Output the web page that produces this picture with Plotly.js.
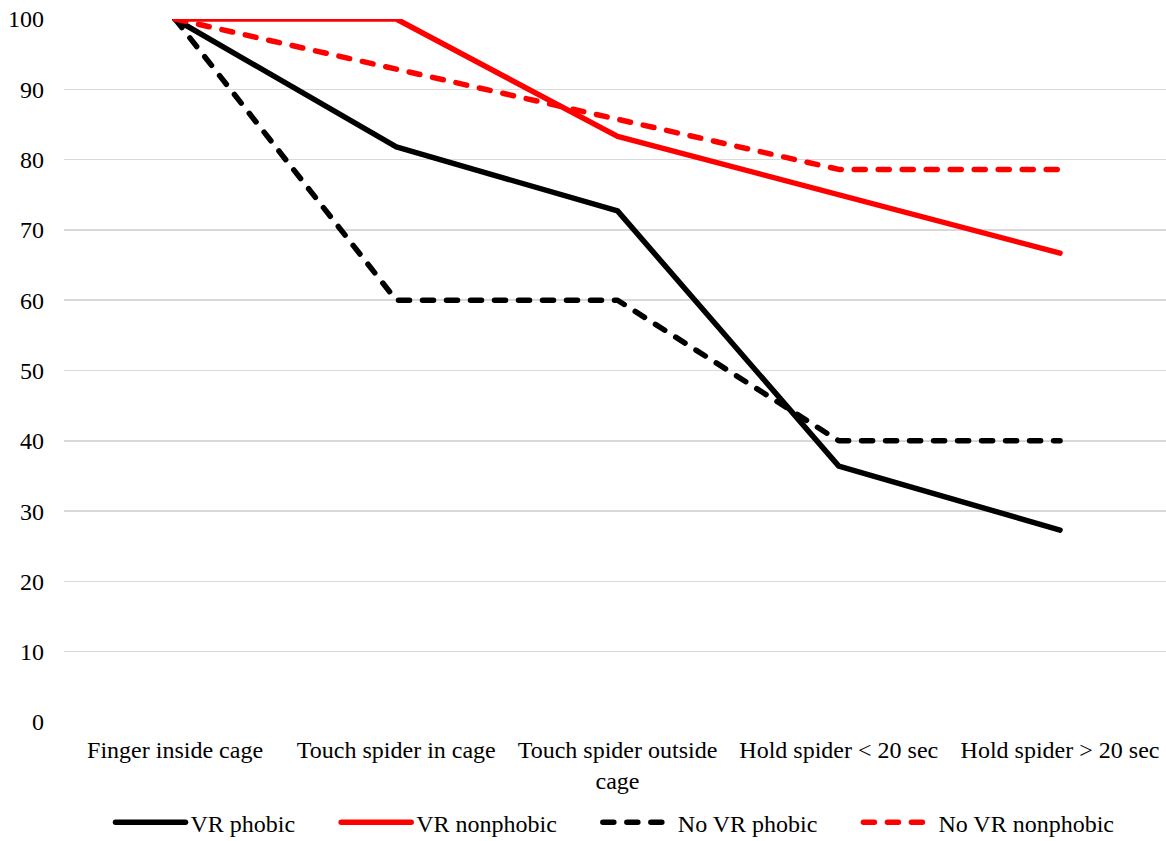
<!DOCTYPE html>
<html>
<head>
<meta charset="utf-8">
<script src="https://cdn.plot.ly/plotly-3.0.1.min.js"></script>
<style>
  html, body { margin: 0; padding: 0; background: #fff; overflow: hidden; }
  #chart { width: 1166px; height: 841px; }
  /* rounded ends on every series stroke, in the plot and the legend */
  #chart path.js-line { stroke-linecap: round; stroke-linejoin: round; }
</style>
</head>
<body>
<div id="chart"></div>
<script>
// Steps of the behavioural approach test
const steps = [
  "Finger inside cage",
  "Touch spider in cage",
  "Touch spider outside<br>cage",
  "Hold spider < 20 sec",
  "Hold spider > 20 sec"
];

// Percentage of participants completing each step
const vrPhobic      = [100, 81.8, 72.7, 36.4, 27.3];
const vrNonphobic   = [100, 100, 83.3, 75.0, 66.7];
const noVrPhobic    = [100, 60, 60, 40, 40];
const noVrNonphobic = [100, 92.9, 85.7, 78.6, 78.6];

const seriesNames = ["VR phobic", "VR nonphobic", "No VR phobic", "No VR nonphobic"];

const yTicks = [0, 10, 20, 30, 40, 50, 60, 70, 80, 90, 100];

const serif = "Liberation Serif, Times New Roman, serif";
const dashPattern = "11px,13px";
// extra room after each legend entry except the last
const legendPad = "\u00a0".repeat(6);

function series(i, y, color, dash) {
  const last = i === seriesNames.length - 1;
  return {
    type: "scatter",
    mode: "lines",
    name: seriesNames[i] + (last ? "" : legendPad),
    x: steps,
    y: y,
    line: { color: color, width: 5.5, dash: dash },
    hoverinfo: "x+y"
  };
}

const data = [
  series(0, vrPhobic, "#000000", "solid"),
  series(1, vrNonphobic, "#ff0000", "solid"),
  series(2, noVrPhobic, "#000000", dashPattern),
  series(3, noVrNonphobic, "#ff0000", dashPattern)
];

const layout = {
  width: 1166,
  height: 841,
  margin: { l: 64, r: 0, t: 19, b: 119, autoexpand: false },
  paper_bgcolor: "#ffffff",
  plot_bgcolor: "#ffffff",
  font: { family: serif, size: 24, color: "#000000" },
  showlegend: true,
  legend: {
    orientation: "h",
    x: 0.5,
    xanchor: "center",
    y: -0.111,
    yanchor: "top",
    itemwidth: 70,
    traceorder: "normal",
    font: { family: serif, size: 24, color: "#000000" }
  },
  xaxis: {
    type: "category",
    range: [-0.502, 4.479],
    automargin: false,
    showgrid: false,
    zeroline: false,
    showline: false,
    ticks: "",
    ticklabelstandoff: 11,
    tickfont: { family: serif, size: 24, color: "#000000" },
    fixedrange: true
  },
  yaxis: {
    range: [0, 100],
    automargin: false,
    tickvals: yTicks,
    ticktext: yTicks.map(String),
    showgrid: true,
    gridcolor: "#d9d9d9",
    gridwidth: 1.5,
    zeroline: false,
    showline: false,
    ticks: "",
    ticklabelstandoff: 19,
    tickfont: { family: serif, size: 24, color: "#000000" },
    fixedrange: true
  }
};

Plotly.newPlot("chart", data, layout, { displayModeBar: false, staticPlot: true });
</script>
</body>
</html>
